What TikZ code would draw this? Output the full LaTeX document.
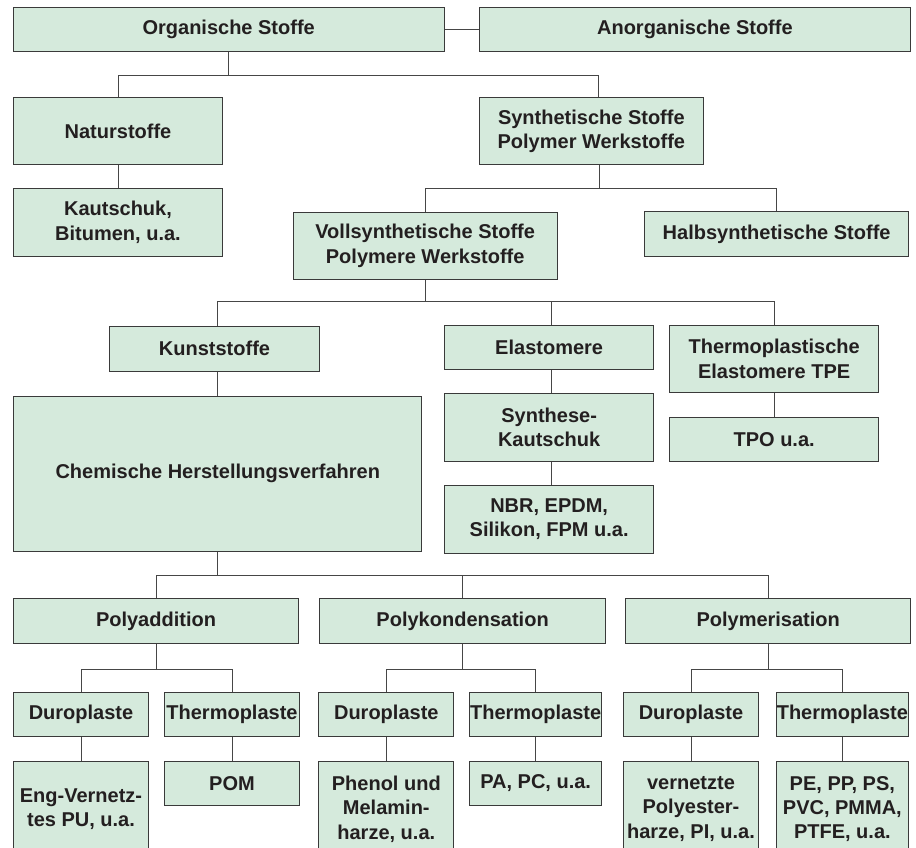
\documentclass[tikz,border=0pt]{standalone}
\usepackage{fontspec}
\setmainfont{Liberation Sans}
\usepackage{tikz}
\usetikzlibrary{shapes, positioning}

\definecolor{fieldgreen}{RGB}{213,234,220}
\definecolor{edgegray}{RGB}{58,58,58}
\definecolor{linegray}{RGB}{70,70,70}
\definecolor{inkblack}{RGB}{35,31,32}

\begin{document}
\begin{tikzpicture}[x=1pt, y=1pt]

\tikzstyle{field} = [rectangle, draw=edgegray, fill=fieldgreen, line width=1pt, inner sep=0pt, align=center, anchor=north west, text=inkblack, font=\bfseries\fontsize{20}{24.3}\selectfont]
\tikzstyle{one} = [minimum height=44.5pt]
\tikzstyle{two} = [minimum height=67.5pt]
\tikzstyle{three} = [minimum height=96pt]
\tikzstyle{line} = [draw=linegray, line width=1pt]

\useasboundingbox (0,0) rectangle (916,-848);

% base
\node (org)[field, one, minimum width=431pt] at (12.7,-6.7) {Organische Stoffe};
\node (anorg)[field, one, minimum width=431pt, right=34.2pt of org] {Anorganische Stoffe};

% lvl 1
\node (nat)[field, two, minimum width=209.6pt] at (12.7,-96.7) {Naturstoffe};
\node (syn)[field, two, minimum width=224.3pt] at (478.7,-97) {Synthetische Stoffe\\Polymer Werkstoffe};

% lvl 2
\node (kaut)[field, two, minimum width=209.6pt, below=23pt of nat] {Kautschuk,\\Bitumen, u.a.};
\node (voll)[field, two, minimum width=264pt] at (292.7,-211.5) {Vollsynthetische Stoffe\\Polymere Werkstoffe};
\node (halb)[field, one, minimum width=264.3pt] at (644,-211.3) {Halbsynthetische Stoffe};

% lvl 3
\node (kunst)[field, one, minimum width=209.4pt] at (109.3,-326) {Kunststoffe};
\node (elast)[field, one, minimum width=209.3pt] at (444,-324.7) {Elastomere};
\node (tpe)[field, two, minimum width=209.3pt] at (669,-324.7) {Thermoplastische\\Elastomere TPE};

\node (chem)[field, minimum width=408pt, minimum height=155pt] at (13.3,-395.7) {Chemische Herstellungsverfahren};
\node (synk)[field, two, minimum width=209.3pt, below=23pt of elast] {Synthese-\\Kautschuk};
\node (nbr)[field, two, minimum width=209.3pt, below=23.3pt of synk] {NBR, EPDM,\\Silikon, FPM u.a.};
\node (tpo)[field, one, minimum width=209.3pt, below=23.3pt of tpe] {TPO u.a.};

% lvl 4
\node (padd)[field, one, minimum width=285.6pt] at (12.7,-598.3) {Polyaddition};
\node (pkond)[field, one, minimum width=285.6pt, right=20pt of padd] {Polykondensation};
\node (pmer)[field, one, minimum width=285pt, right=19.3pt of pkond] {Polymerisation};

% lvl 5
\node (duro_add)[field, one, minimum width=135.6pt] at (12.7,-691.7) {Duroplaste};
\node (thermo_add)[field, one, minimum width=135.6pt, right=14.4pt of duro_add] {Thermoplaste};
\node (duro_kond)[field, one, minimum width=135pt] at (318.3,-691.7) {Duroplaste};
\node (thermo_kond)[field, one, minimum width=131.7pt, right=15pt of duro_kond] {Thermoplaste};
\node (duro_mer)[field, one, minimum width=134.4pt] at (623.3,-691.7) {Duroplaste};
\node (thermo_mer)[field, one, minimum width=131.7pt, right=17.3pt of duro_mer] {Thermoplaste};

% lvl 6
\node (eng)[field, three, minimum width=135.6pt, below=23.3pt of duro_add] {Eng-Vernetz-\\tes PU, u.a.};
\node (pom)[field, one, minimum width=135.6pt, below=23.3pt of thermo_add] {POM};
\node (phen)[field, three, minimum width=135pt, below=23.3pt of duro_kond] {Phenol und\\Melamin-\\harze, u.a.};
\node (pa)[field, one, minimum width=131.7pt, below=23.3pt of thermo_kond] {PA, PC, u.a.};
\node (vern)[field, three, minimum width=134.4pt, below=23.3pt of duro_mer] {vernetzte\\Polyester-\\harze, PI, u.a.};
\node (pe)[field, three, minimum width=131.7pt, below=23.3pt of thermo_mer] {PE, PP, PS,\\PVC, PMMA,\\PTFE, u.a.};

% lines
\draw[line] (org.east) -- (anorg.west);

\draw[line] (org.south) -- ++(0,-23) coordinate (j_org) -| (nat.north);
\draw[line] (j_org) -| ([xshift=7.5pt]syn.north);
\draw[line] (nat.south) -- (kaut.north);

\draw[line] ([xshift=8pt]syn.south) -- ++(0,-23) coordinate (j_syn) -| (voll.north);
\draw[line] (j_syn) -| (halb.north);

\draw[line] (voll.south) -- ++(0,-21.5) coordinate (j_voll) -| ([xshift=2.5pt]kunst.north);
\draw[line] (j_voll) -| ([xshift=2.5pt]elast.north);
\draw[line] (j_voll) -| (tpe.north);

\draw[line] ([xshift=2.5pt]kunst.south) -- ([xshift=2.5pt]kunst.south |- chem.north);
\draw[line] ([xshift=2.5pt]elast.south) -- ([xshift=2.5pt]synk.north);
\draw[line] ([xshift=2.5pt]synk.south) -- ([xshift=2.5pt]nbr.north);
\draw[line] (tpe.south) -- (tpo.north);

\draw[line] (chem.south) -- ++(0,-24) coordinate (j_chem) -| (padd.north);
\draw[line] (j_chem) -| (pkond.north);
\draw[line] (j_chem) -| (pmer.north);

\draw[line] (padd.south) -- ++(0,-25.6) coordinate (j_add) -| (duro_add.north);
\draw[line] (j_add) -| (thermo_add.north);
\draw[line] (pkond.south) -- ++(0,-25.6) coordinate (j_kond) -| (duro_kond.north);
\draw[line] (j_kond) -| (thermo_kond.north);
\draw[line] (pmer.south) -- ++(0,-25.6) coordinate (j_mer) -| (duro_mer.north);
\draw[line] (j_mer) -| (thermo_mer.north);

\draw[line] (duro_add.south) -- (eng.north);
\draw[line] (thermo_add.south) -- (pom.north);
\draw[line] (duro_kond.south) -- (phen.north);
\draw[line] (thermo_kond.south) -- (pa.north);
\draw[line] (duro_mer.south) -- (vern.north);
\draw[line] (thermo_mer.south) -- (pe.north);

\end{tikzpicture}
\end{document}
